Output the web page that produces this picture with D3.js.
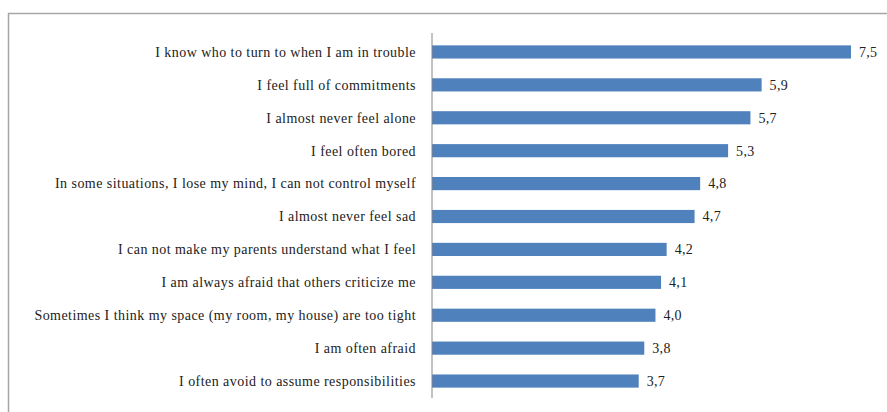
<!DOCTYPE html>
<html>
<head>
<meta charset="utf-8">
<script src="https://cdn.jsdelivr.net/npm/d3@7"></script>
<style>
	body { margin: 0; background: #fff; }
	svg text { font-family: "Liberation Serif", "DejaVu Serif", serif; fill: #222; }
</style>
</head>
<body>
<svg id="chart" width="887" height="412"></svg>
<script>
// statements, top to bottom
const categories = [
	"I know who to turn to when I am in trouble",
	"I feel full of commitments",
	"I almost never feel alone",
	"I feel often bored",
	"In some situations, I lose my mind, I can not control myself",
	"I almost never feel sad",
	"I can not make my parents understand what I feel",
	"I am always afraid that others criticize me",
	"Sometimes I think my space (my room, my house) are too tight",
	"I am often afraid",
	"I often avoid to assume responsibilities"
];
const values = [7.5, 5.9, 5.7, 5.3, 4.8, 4.7, 4.2, 4.1, 4.0, 3.8, 3.7];

const svg = d3.select('#chart');

// frame of the chart area (cut at right and bottom)
svg.append('rect')
	.attr('x', 8.5).attr('y', 13.5)
	.attr('width', 900).attr('height', 420)
	.attr('fill', 'none')
	.attr('stroke', '#a6a6a6')
	.attr('stroke-width', 1.5);

var x = d3.scaleLinear().domain([0, 7.5]).range([432, 851]);
var y = d3.scaleBand().domain(categories).range([35.5, 397.5]).paddingInner(0.6).paddingOuter(0.3);

var comma = d3.formatLocale({ decimal: ',', thousands: '.', grouping: [3], currency: ['', ''] }).format('.1f');

var rows = svg.selectAll('g.row')
	.data(categories.map(function(c, i) { return { name: c, value: values[i] }; }))
	.enter()
	.append('g')
	.attr('class', 'row');

rows.append('rect')
	.attr('x', x(0))
	.attr('y', function(d) { return y(d.name); })
	.attr('width', function(d) { return x(d.value) - x(0); })
	.attr('height', y.bandwidth())
	.attr('fill', '#4f81bd');

rows.append('text')
	.attr('x', x(0) - 16)
	.attr('y', function(d) { return y(d.name) + y.bandwidth() / 2; })
	.attr('dy', '0.35em')
	.attr('text-anchor', 'end')
	.style('font-size', '14px')
	.style('letter-spacing', '0.45px')
	.text(function(d) { return d.name; });

rows.append('text')
	.attr('x', function(d) { return x(d.value) + 8; })
	.attr('y', function(d) { return y(d.name) + y.bandwidth() / 2; })
	.attr('dy', '0.35em')
	.style('font-size', '14px')
	.style('letter-spacing', '0.3px')
	.text(function(d) { return comma(d.value); });

// category axis line
svg.append('line')
	.attr('x1', x(0)).attr('x2', x(0))
	.attr('y1', 33).attr('y2', 398)
	.attr('stroke', '#868686')
	.attr('stroke-width', 1);
</script>
</body>
</html>
